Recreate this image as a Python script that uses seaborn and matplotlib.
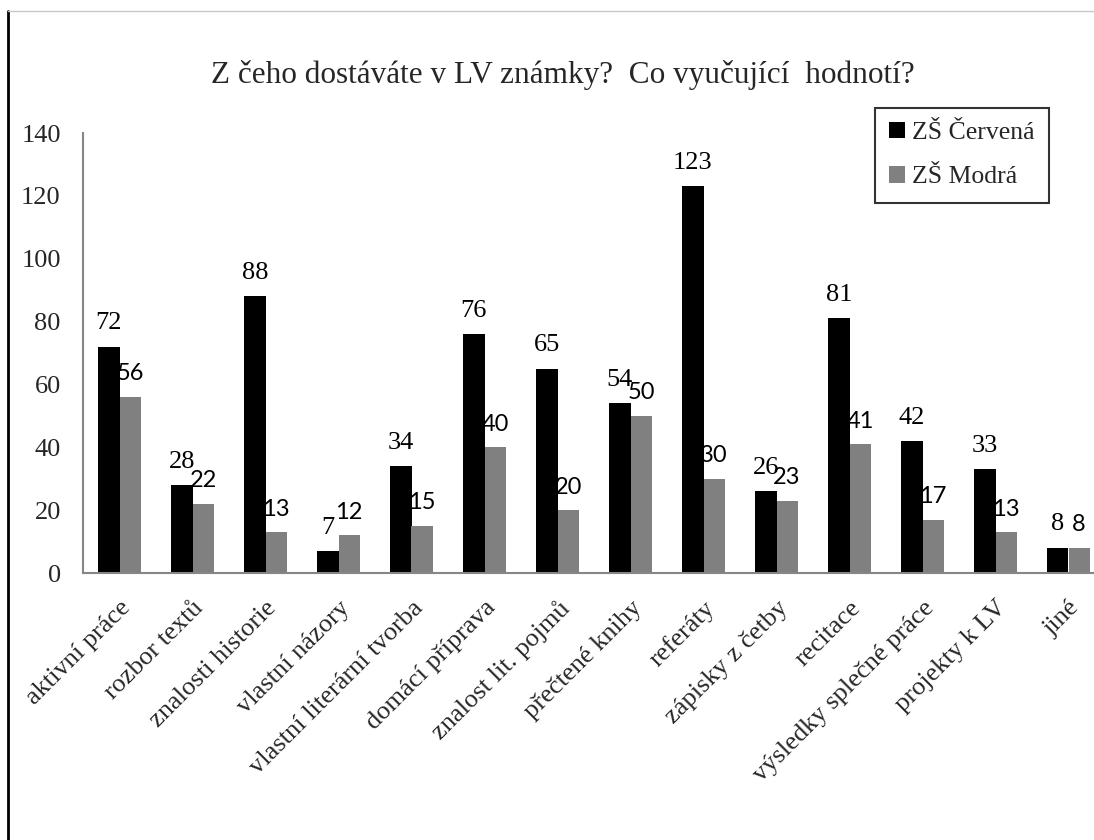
import pandas as pd
import matplotlib.pyplot as plt
import seaborn as sns
from matplotlib.lines import Line2D
from matplotlib.ticker import FixedLocator
from matplotlib.transforms import ScaledTranslation

# data
categories = ["aktivní práce", "rozbor textů", "znalosti historie", "vlastní názory",
              "vlastní literární tvorba", "domácí příprava", "znalost lit. pojmů",
              "přečtené knihy", "referáty", "zápisky z četby", "recitace",
              "výsledky splečné práce", "projekty k LV", "jiné"]
cervena = [72, 28, 88, 7, 34, 76, 65, 54, 123, 26, 81, 42, 33, 8]
modra = [56, 22, 13, 12, 15, 40, 20, 50, 30, 23, 41, 17, 13, 8]
schools = ["ZŠ Červená", "ZŠ Modrá"]

sns.set_style("white")
plt.rcParams['font.family'] = ['Liberation Serif', 'DejaVu Serif']

df = pd.DataFrame({
    'kategorie': categories * 2,
    'skola': [schools[0]] * len(categories) + [schools[1]] * len(categories),
    'pocet': cervena + modra,
})

fig = plt.figure(figsize=(10.94, 8.4), dpi=100)
ax = fig.add_axes([83 / 1094, 1 - 573 / 840, 1022 / 1094, 440 / 840])

sns.barplot(data=df, x='kategorie', y='pocet', hue='skola', order=categories,
            hue_order=schools, palette=['#000000', '#808080'], width=0.58,
            saturation=1, linewidth=0, ax=ax)

# popisky hodnot: cerna rada patkove pismo, seda bezpatkove
label_fonts = [['Liberation Serif'], ['Lato', 'DejaVu Sans']]
label_sizes = [19, 17]
for cont, fam, fs in zip(ax.containers, label_fonts, label_sizes):
    texts = ax.bar_label(cont, padding=9, color='black')
    for t in texts:
        t.set_fontfamily(fam)
        t.set_fontsize(fs)

ax.set_xlim(-0.5, len(categories) - 0.5)
ax.set_ylim(0, 140)
ax.set_yticks(range(0, 141, 20))
ax.set_xlabel('')
ax.set_ylabel('')

# osa x: carky mezi kategoriemi, popisky uprostred
ax.xaxis.set_major_locator(FixedLocator([i - 0.5 for i in range(len(categories) + 1)]))
ax.xaxis.set_minor_locator(FixedLocator(list(range(len(categories)))))
ax.set_xticklabels([], minor=False)
ax.set_xticklabels(categories, minor=True, rotation=45, ha='right',
                   rotation_mode='anchor', fontsize=19)
shift = ScaledTranslation(-7 / 100, 0, fig.dpi_scale_trans)
for lab in ax.get_xticklabels(minor=True):
    lab.set_transform(lab.get_transform() + shift)
ax.tick_params(axis='x', which='minor', length=0, pad=17)
ax.tick_params(axis='x', which='major', length=6, width=1.2, color='#868686', direction='out')
ax.tick_params(axis='y', length=6, width=1.2, color='#868686', direction='out',
               labelsize=19, pad=10)

for side in ['top', 'right']:
    ax.spines[side].set_visible(False)
for side in ['left', 'bottom']:
    ax.spines[side].set_color('#868686')
    ax.spines[side].set_linewidth(1.5)

fig.text(563 / 1094, 1 - 75 / 840,
         'Z čeho dostáváte v LV známky?  Co vyučující  hodnotí?',
         ha='center', va='center', fontsize=22.5)

leg = ax.legend(loc='upper left', bbox_to_anchor=(875 / 1094, 1 - 108 / 840),
                bbox_transform=fig.transFigure, borderaxespad=0, fontsize=18.5,
                frameon=True, fancybox=False, edgecolor='black',
                handlelength=0.6, handleheight=0.6, handletextpad=0.3,
                labelspacing=0.85, borderpad=0.55)
leg.get_frame().set_linewidth(1.5)

# ramecek obrazku
fig.add_artist(Line2D([8 / 1094, 8 / 1094], [0, 1 - 11 / 840], color='black',
                      linewidth=2, transform=fig.transFigure))
fig.add_artist(Line2D([8 / 1094, 1], [1 - 11 / 840, 1 - 11 / 840], color='#c8c8c8',
                      linewidth=1, transform=fig.transFigure))

plt.savefig('out.png', dpi=100)
plt.close()
